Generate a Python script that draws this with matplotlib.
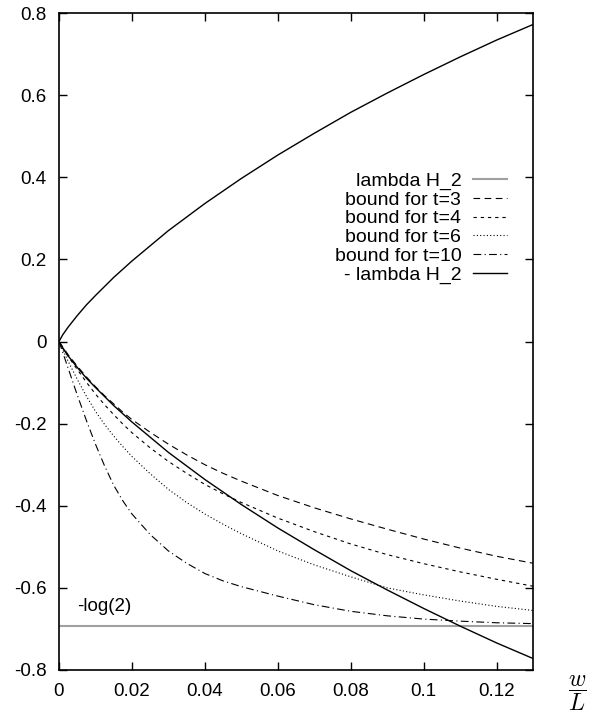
import matplotlib
matplotlib.use("Agg")
import matplotlib.pyplot as plt

plt.rcParams['font.family'] = ['Liberation Sans', 'DejaVu Sans']
plt.rcParams['mathtext.fontset'] = 'cm'

# ---- data ----
x_h = [0.0, 0.001, 0.0025, 0.005, 0.0075, 0.01, 0.015, 0.02, 0.03, 0.04, 0.05,
       0.06, 0.07, 0.08, 0.09, 0.10, 0.11, 0.12, 0.13]
lam_h2 = [0.0, 0.016, 0.035, 0.063, 0.089, 0.112, 0.156, 0.196, 0.270, 0.336, 0.397,
          0.454, 0.507, 0.558, 0.605, 0.650, 0.693, 0.734, 0.772]
neg_lam_h2 = [-v for v in lam_h2]

x_b = [0.0, 0.0025, 0.005, 0.0075, 0.01, 0.0125, 0.015, 0.0175, 0.02, 0.025, 0.03,
       0.035, 0.04, 0.045, 0.05, 0.06, 0.07, 0.08, 0.09, 0.10, 0.11, 0.12, 0.13]
bound_t3 = [0.0, -0.032, -0.060, -0.086, -0.110, -0.132, -0.152, -0.172, -0.190, -0.221,
            -0.250, -0.276, -0.300, -0.321, -0.340, -0.375, -0.405, -0.432, -0.457,
            -0.481, -0.503, -0.523, -0.540]
bound_t4 = [0.0, -0.036, -0.068, -0.099, -0.128, -0.154, -0.178, -0.201, -0.222, -0.259,
            -0.292, -0.321, -0.348, -0.371, -0.392, -0.430, -0.463, -0.493, -0.519,
            -0.541, -0.561, -0.579, -0.596]
bound_t6 = [0.0, -0.048, -0.092, -0.133, -0.170, -0.202, -0.230, -0.256, -0.280, -0.322,
            -0.360, -0.392, -0.420, -0.445, -0.468, -0.510, -0.544, -0.573, -0.600,
            -0.617, -0.632, -0.645, -0.655]
bound_t10 = [0.0, -0.065, -0.130, -0.192, -0.250, -0.303, -0.350, -0.388, -0.420, -0.470,
             -0.510, -0.540, -0.565, -0.583, -0.597, -0.620, -0.641, -0.657, -0.668,
             -0.676, -0.681, -0.685, -0.687]
log2_level = -0.6931

x_ticks = [0, 0.02, 0.04, 0.06, 0.08, 0.1, 0.12]
x_ticklabels = ['0', '0.02', '0.04', '0.06', '0.08', '0.1', '0.12']
y_ticks = [-0.8, -0.6, -0.4, -0.2, 0, 0.2, 0.4, 0.6, 0.8]
y_ticklabels = ['-0.8', '-0.6', '-0.4', '-0.2', '0', '0.2', '0.4', '0.6', '0.8']

# ---- figure ----
fig = plt.figure(figsize=(5.96, 7.21), dpi=100)
ax = fig.add_axes([59/596, 1-670/721, (533-59)/596, (670-13)/721])

lw = 0.8
h_gray, = ax.plot([0, 0.13], [log2_level, log2_level], color='#a0a0a0', lw=1.5,
                  label='lambda H_2')
ax.plot(x_h, lam_h2, color='black', lw=1.0)
h3, = ax.plot(x_b, bound_t3, color='black', lw=lw, linestyle=(0, (6, 4)),
              label='bound for t=3')
h4, = ax.plot(x_b, bound_t4, color='black', lw=lw, linestyle=(0, (3, 3.5)),
              label='bound for t=4')
h6, = ax.plot(x_b, bound_t6, color='black', lw=lw, linestyle=(0, (1, 2)),
              label='bound for t=6')
h10, = ax.plot(x_b, bound_t10, color='black', lw=lw, linestyle=(0, (7, 3, 1, 3)),
               label='bound for t=10')
hn, = ax.plot(x_h, neg_lam_h2, color='black', lw=1.0, label='- lambda H_2')

ax.set_xlim(0, 0.13)
ax.set_ylim(-0.8, 0.8)
ax.set_xticks(x_ticks)
ax.set_xticklabels(x_ticklabels)
ax.set_yticks(y_ticks)
ax.set_yticklabels(y_ticklabels)
ax.tick_params(direction='in', length=6, width=1, top=True, right=True,
               labelsize=13.5, pad=9)
for s in ax.spines.values():
    s.set_linewidth(1.2)

ax.text(0.005, -0.645, '-log(2)', fontsize=13.5, ha='left', va='center')

leg = ax.legend(handles=[h_gray, h3, h4, h6, h10, hn], markerfirst=False,
                frameon=False, fontsize=14, handlelength=1.75, handletextpad=0.6,
                labelspacing=0.06, borderpad=0, borderaxespad=0,
                loc='upper right', bbox_to_anchor=(507/596, 1-172/721),
                bbox_transform=fig.transFigure)

fig.text(577/596, 1-693/721, r'$\dfrac{w}{L}$', fontsize=17, ha='center', va='center')

fig.savefig('out.png', dpi=100)
